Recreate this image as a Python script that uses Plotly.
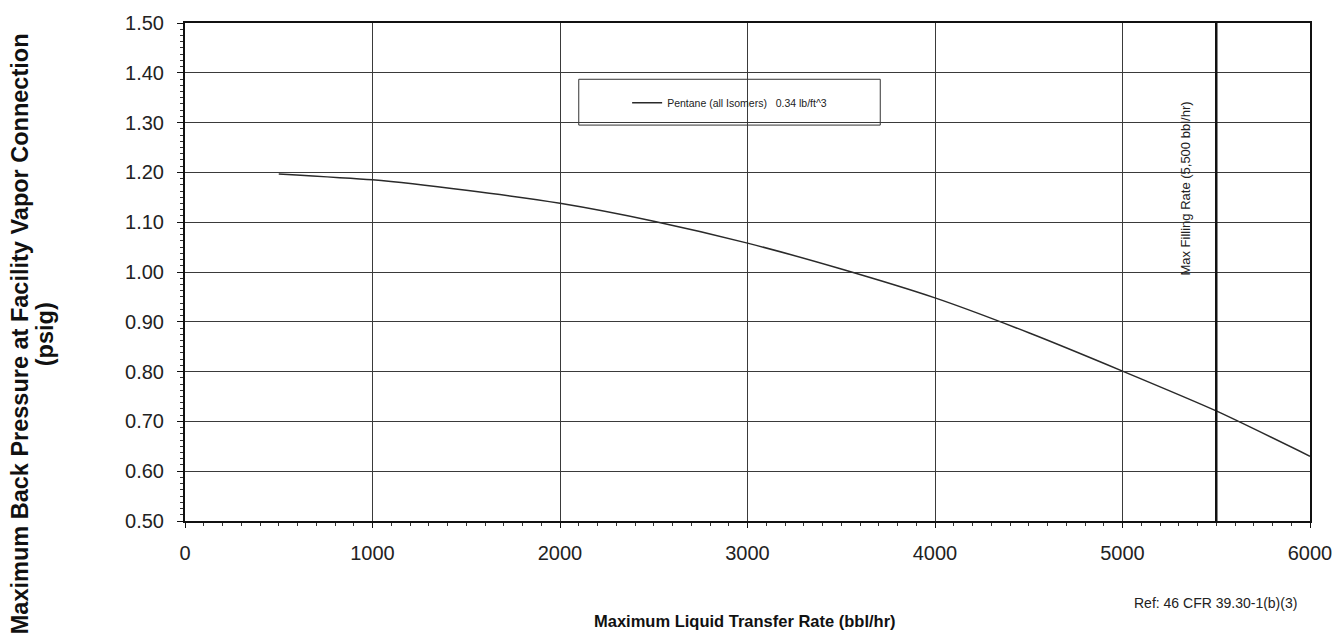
import plotly.graph_objects as go

# ---- data ----
transfer_rate = [500, 1000, 1500, 2000, 2500, 3000, 3500, 4000, 4500, 5000, 5500, 6000]
back_pressure = [1.197, 1.185, 1.164, 1.138, 1.102, 1.058, 1.006, 0.948, 0.878, 0.801, 0.721, 0.630]
series_name = "Pentane (all Isomers)   0.34 lb/ft^3"
max_fill_rate = 5500
max_fill_label = "Max Filling Rate (5,500 bbl/hr)"
x_title = "Maximum Liquid Transfer Rate (bbl/hr)"
y_title_line1 = "Maximum Back Pressure at Facility Vapor Connection"
y_title_line2 = "(psig)"
ref_text = "Ref: 46 CFR 39.30-1(b)(3)"

FONT = "Arial, Liberation Sans, sans-serif"
GRID = "#3a3a3a"

fig = go.Figure()
fig.add_trace(go.Scatter(
    x=transfer_rate, y=back_pressure, mode="lines", name=series_name,
    line=dict(color="#2a2a2a", width=1.5, shape="spline", smoothing=0.6),
    showlegend=True,
))

fig.update_layout(
    width=1344, height=635,
    margin=dict(l=185, r=34, t=18, b=114),
    paper_bgcolor="white", plot_bgcolor="white",
    font=dict(family=FONT, color="#222"),
    showlegend=True,
    legend=dict(
        x=0.393, y=0.84, xanchor="left", yanchor="middle",
        bgcolor="rgba(0,0,0,0)", borderwidth=0,
        font=dict(size=10.5, family=FONT, color="#222"),
        itemwidth=30,
    ),
    xaxis=dict(
        range=[0, 6000], tickmode="linear", tick0=0, dtick=1000,
        showgrid=True, gridcolor=GRID, gridwidth=1.2,
        showline=True, linecolor="#111", linewidth=2, mirror=True,
        ticks="outside", ticklen=5, tickcolor="#111", ticklabelstandoff=8,
        minor=dict(dtick=100, ticks="outside", ticklen=3, tickcolor="#333", showgrid=False),
        tickfont=dict(size=20, family=FONT, color="#222"),
        zeroline=False,
    ),
    yaxis=dict(
        range=[0.5, 1.5], tickmode="linear", tick0=0.5, dtick=0.1, tickformat=".2f",
        showgrid=True, gridcolor=GRID, gridwidth=1.2,
        showline=True, linecolor="#111", linewidth=2, mirror=True,
        ticks="outside", ticklen=6, tickcolor="#111", ticklabelstandoff=9,
        minor=dict(dtick=0.0125, ticks="outside", ticklen=3, tickcolor="#333", showgrid=False),
        tickfont=dict(size=20, family=FONT, color="#222"),
        zeroline=False,
    ),
    shapes=[
        dict(type="line", xref="x", yref="paper", x0=max_fill_rate, x1=max_fill_rate, y0=0, y1=1,
             line=dict(color="#111", width=2.5)),
        dict(type="rect", xref="paper", yref="paper", x0=0.350, x1=0.618, y0=0.795, y1=0.887,
             line=dict(color="#333", width=1), fillcolor="white", layer="below"),
    ],
    annotations=[
        dict(text=max_fill_label, xref="x", yref="paper", x=max_fill_rate, y=0.668,
             xshift=-31, textangle=-90, showarrow=False, xanchor="center", yanchor="middle",
             font=dict(size=13, family=FONT, color="#222")),
        dict(text=ref_text, xref="paper", yref="paper", x=0.916, y=-0.165,
             xanchor="center", yanchor="middle", showarrow=False,
             font=dict(size=14, family=FONT, color="#222")),
        dict(text="<b>" + x_title + "</b>", xref="paper", yref="paper", x=0.498, y=-0.2008,
             xanchor="center", yanchor="middle", showarrow=False,
             font=dict(size=16.5, family=FONT, color="#111")),
        dict(text="<b>" + y_title_line1 + "</b>", xref="paper", yref="paper", x=0, y=0.375,
             xshift=-165, xanchor="center", yanchor="middle", textangle=-90, showarrow=False,
             font=dict(size=23.5, family=FONT, color="#111")),
        dict(text="<b>" + y_title_line2 + "</b>", xref="paper", yref="paper", x=0, y=0.375,
             xshift=-140, xanchor="center", yanchor="middle", textangle=-90, showarrow=False,
             font=dict(size=23.5, family=FONT, color="#111")),
    ],
)

fig.write_html("out.html")
